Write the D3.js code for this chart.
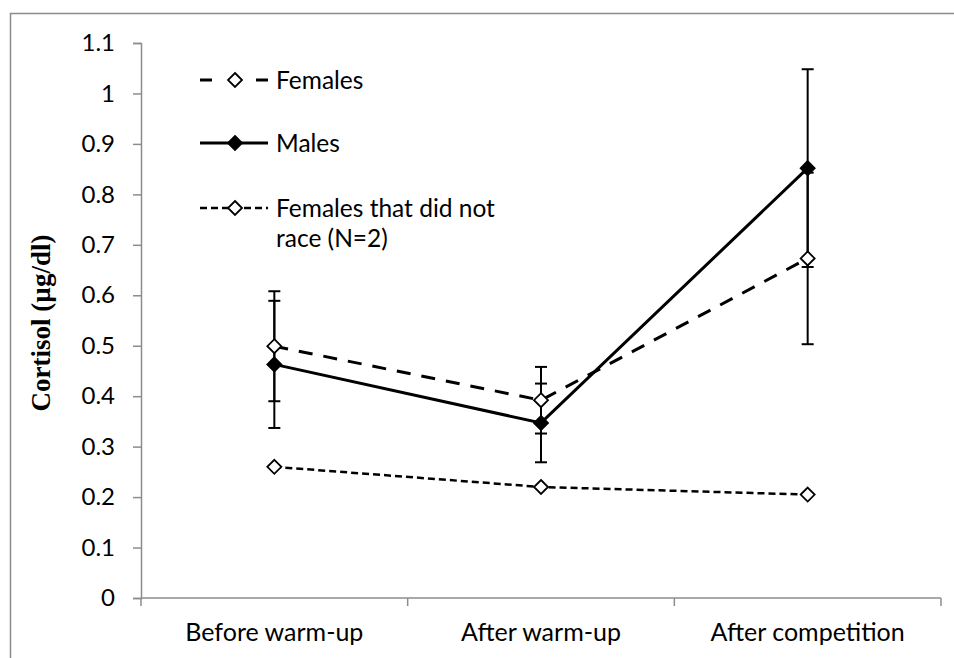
<!DOCTYPE html>
<html><head><meta charset="utf-8">
<script src="https://cdn.jsdelivr.net/npm/d3@7"></script>
<style>body{margin:0;background:#fff}svg{display:block}</style>
</head><body>
<svg id="c" width="954" height="658"></svg>
<script>
const categories = ["Before warm-up", "After warm-up", "After competition"];
const females = [0.499, 0.392, 0.673];
const femalesErr = [0.109, 0.066, 0.170];
const males = [0.463, 0.347, 0.852];
const malesErr = [0.126, 0.078, 0.196];
const notRaced = [0.260, 0.220, 0.205];
const yTicks = [0, 0.1, 0.2, 0.3, 0.4, 0.5, 0.6, 0.7, 0.8, 0.9, 1, 1.1];
const legendLabels = ["Females", "Males", "Females that did not", "race (N=2)"];
const yTitle = "Cortisol (µg/dl)";

const svg = d3.select("#c");
const font = "Lato, 'Open Sans', sans-serif";
const L = 141, R = 941, T = 43, B = 598;

svg.append("rect").attr("x",10.5).attr("y",13.5).attr("width",980).attr("height",700)
  .attr("fill","none").attr("stroke","#8c8c8c").attr("stroke-width",1.5);

const x = d3.scaleBand().domain(categories).range([L, R]);
const y = d3.scaleLinear().domain([0, 1.1]).range([B, T]);
const cx = d => x(d) + x.bandwidth()/2;

// Y axis
const ya = svg.append("g").attr("transform",`translate(${L},0)`)
  .call(d3.axisLeft(y).tickValues(yTicks).tickFormat(d3.format("~g")).tickSize(8).tickPadding(18));
ya.select(".domain").attr("stroke","#8c8c8c").attr("stroke-width",1.5);
ya.selectAll(".tick line").attr("stroke","#8c8c8c").attr("stroke-width",1.5);
ya.selectAll("text").attr("font-family",font).attr("font-size",24).attr("fill","#000");

// X axis
const xa = svg.append("g").attr("transform",`translate(0,${B})`)
  .call(d3.axisBottom(x).tickSize(0).tickPadding(25));
xa.select(".domain").attr("stroke","#8c8c8c").attr("stroke-width",1.5).attr("d",`M${L},0H${R}`);
xa.selectAll(".tick line").remove();
xa.selectAll("text").attr("font-family",font).attr("font-size",25).attr("fill","#000");
// x ticks at band boundaries
svg.append("g").selectAll("line").data(x.domain().map(d=>x(d)).concat([R]))
  .join("line").attr("x1",d=>d).attr("x2",d=>d).attr("y1",B).attr("y2",B+8)
  .attr("stroke","#8c8c8c").attr("stroke-width",1.5);

// Y title
svg.append("text").attr("transform",`translate(50,323) rotate(-90)`)
  .attr("text-anchor","middle").attr("font-family","'Liberation Serif', 'DejaVu Serif', serif")
  .attr("font-weight","bold").attr("font-size",27).text(yTitle);

const line = d3.line().x((d,i)=>cx(categories[i])).y(d=>y(d));

// Error bars
function errBars(vals, errs) {
  const g = svg.append("g");
  vals.forEach((v,i) => {
    const px = cx(categories[i]);
    g.append("line").attr("x1",px).attr("x2",px).attr("y1",y(v-errs[i])).attr("y2",y(v+errs[i]))
      .attr("stroke","#000").attr("stroke-width",2);
    [v-errs[i], v+errs[i]].forEach(e => {
      g.append("line").attr("x1",px-6).attr("x2",px+6).attr("y1",y(e)).attr("y2",y(e))
        .attr("stroke","#000").attr("stroke-width",2);
    });
  });
}
errBars(females, femalesErr);
errBars(males, malesErr);

const diamond = (g, px, py, filled) => g.append("path")
  .attr("d",`M${px},${py-7}L${px+7},${py}L${px},${py+7}L${px-7},${py}Z`)
  .attr("fill", filled ? "#000" : "#fff").attr("stroke","#000").attr("stroke-width",1.8);

// Lines
svg.append("path").datum(notRaced).attr("d",line).attr("fill","none")
  .attr("stroke","#000").attr("stroke-width",2.5).attr("stroke-dasharray","7,4");
svg.append("path").datum(females).attr("d",line).attr("fill","none")
  .attr("stroke","#000").attr("stroke-width",3).attr("stroke-dasharray","14,11");
svg.append("path").datum(males).attr("d",line).attr("fill","none")
  .attr("stroke","#000").attr("stroke-width",3);

const mk = svg.append("g");
notRaced.forEach((v,i)=>diamond(mk, cx(categories[i]), y(v), false));
females.forEach((v,i)=>diamond(mk, cx(categories[i]), y(v), false));
males.forEach((v,i)=>diamond(mk, cx(categories[i]), y(v), true));

// Legend
const lg = svg.append("g");
const lx1 = 200, lx2 = 268, lmx = 235;
// Females
lg.append("line").attr("x1",lx1).attr("x2",lx1+12).attr("y1",80).attr("y2",80).attr("stroke","#000").attr("stroke-width",3);
lg.append("line").attr("x1",lx2-12).attr("x2",lx2).attr("y1",80).attr("y2",80).attr("stroke","#000").attr("stroke-width",3);
diamond(lg, lmx, 80, false);
// Males
lg.append("line").attr("x1",lx1).attr("x2",lx2).attr("y1",143).attr("y2",143).attr("stroke","#000").attr("stroke-width",3);
diamond(lg, lmx, 143, true);
// Not raced
lg.append("line").attr("x1",lx1).attr("x2",lx2).attr("y1",208).attr("y2",208).attr("stroke","#000").attr("stroke-width",2.5).attr("stroke-dasharray","7,4");
diamond(lg, lmx, 208, false);

const ltxt = [[legendLabels[0],80],[legendLabels[1],143],[legendLabels[2],208],[legendLabels[3],238]];
lg.selectAll("text.l").data(ltxt).join("text").attr("class","l")
  .attr("x",276).attr("y",d=>d[1]).attr("dy","0.35em")
  .attr("font-family",font).attr("font-size",24.5).attr("fill","#000").text(d=>d[0]);
</script>
</body></html>
